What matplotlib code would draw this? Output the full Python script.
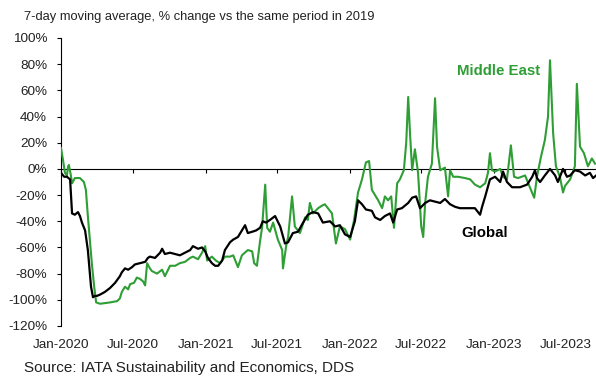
import numpy as np
import pandas as pd
import matplotlib
matplotlib.use("Agg")
from matplotlib import pyplot as plt
import matplotlib.dates as mdates

plt.rcParams['font.family'] = ['Liberation Sans', 'DejaVu Sans']

start = pd.Timestamp("2020-01-01")

# days since 2020-01-01 and % change vs 2019
global_days = [0, 8, 15, 23, 28, 35, 43, 48, 53, 61, 68, 76, 81, 86, 91, 99, 111, 124, 137, 149,
               154, 162, 170, 180, 187, 200, 213, 220, 225, 238, 251, 256, 263, 276, 289, 301, 314, 327, 334, 347,
               357, 365, 372, 382, 390, 398, 408, 415, 428, 436, 448, 458, 466, 473, 484, 494, 504, 511, 519, 529,
               542, 555, 567, 575, 587, 600, 613, 625, 638, 651, 663, 681, 694, 706, 719, 732, 744, 752, 762, 772,
               787, 795, 808, 820, 833, 841, 851, 863, 879, 889, 899, 909, 922, 934, 947, 960, 972, 985, 998, 1010,
               1023, 1036, 1048, 1056, 1061, 1066, 1074, 1086, 1099, 1112, 1119, 1129, 1142, 1162, 1180, 1193, 1200,
               1205, 1213, 1225, 1238, 1251, 1258, 1271, 1281, 1289, 1301, 1314, 1327, 1339, 1347, 1355]
global_vals = [-3, -6, -6, -8, -34, -35, -33, -36, -41, -47, -62, -90, -98, -97, -97, -96, -94, -91, -87, -82,
               -79, -76, -77, -75, -73, -72, -71, -68, -67, -68, -64, -61, -65, -64, -65, -66, -64, -62, -59, -61,
               -60, -63, -68, -72, -74, -74, -70, -62, -56, -54, -52, -47, -43, -49, -48, -47, -45, -40, -41, -39,
               -36, -44, -57, -56, -49, -48, -41, -35, -33, -34, -41, -40, -44, -43, -50, -52, -40, -24, -27, -31,
               -32, -37, -39, -36, -34, -41, -31, -30, -26, -22, -21, -30, -26, -24, -25, -26, -23, -27, -29, -30,
               -30, -30, -30, -33, -35, -29, -21, -8, -6, -10, -2, -10, -14, -14, -12, -6, -1,
               -7, -10, -5, 0, -5, -10, 0, -6, -5, -1, -2, -5, -3, -7, -5]

me_days = [0, 5, 10, 15, 18, 20, 25, 28, 35, 48, 58, 63, 68, 73, 78, 84, 89, 99, 124, 142,
           149, 154, 162, 170, 175, 185, 192, 200, 208, 213, 218, 225, 230, 243, 256, 263, 276, 289, 301, 314,
           327, 334, 347, 357, 365, 370, 382, 392, 403, 415, 428, 436, 448, 458, 473, 484, 489, 496, 504, 509,
           517, 522, 529, 537, 549, 560, 562, 570, 575, 585, 592, 605, 618, 625, 630, 638, 651, 661, 668, 686,
           696, 706, 719, 732, 742, 752, 762, 772, 780, 787, 795, 803, 813, 820, 828, 836, 843, 851, 858, 868,
           874, 879, 884, 889, 896, 904, 912, 917, 922, 929, 939, 947, 952, 960, 972, 980, 985, 993, 1005, 1023,
           1036, 1048, 1061, 1074, 1081, 1086, 1091, 1099, 1112, 1119, 1129, 1139, 1147, 1157, 1175, 1187, 1198,
           1205, 1215, 1225, 1233, 1238, 1246, 1253, 1263, 1271, 1276, 1289, 1301, 1306, 1314, 1324, 1334, 1344, 1352]
me_vals = [16, 7, -3, -5, 2, 3, -5, -11, -7, -7, -10, -16, -36, -54, -72, -90, -102, -103, -102, -101,
           -99, -94, -90, -92, -88, -87, -83, -84, -86, -89, -72, -76, -78, -80, -77, -82, -74, -74, -72, -71,
           -68, -67, -69, -64, -59, -70, -67, -70, -72, -67, -67, -66, -75, -66, -62, -63, -72, -74, -55, -45,
           -12, -45, -48, -41, -54, -62, -76, -59, -52, -21, -44, -49, -37, -39, -26, -34, -30, -28, -27, -34,
           -57, -44, -46, -54, -39, -18, -8, 5, 6, -16, -20, -24, -30, -21, -24, -21, -45, -11, -8, -1,
           20, 55, 25, -1, 15, -3, -44, -52, -26, -6, 4, 54, 17, -1, 1, -21, -1, -6, -6, -7,
           -8, -12, -14, -11, -3, 12, -1, -2, 0, -6, -8, 18, -6, -7, -5, -14, -22,
           -6, 9, 22, 40, 83, 27, 2, -6, -18, -13, -8, 2, 65, 17, 12, 2, 8, 4]

tick_dates = ["2020-01-01", "2020-07-01", "2021-01-01", "2021-07-01",
              "2022-01-01", "2022-07-01", "2023-01-01", "2023-07-01"]
tick_labels = ["Jan-2020", "Jul-2020", "Jan-2021", "Jul-2021",
               "Jan-2022", "Jul-2022", "Jan-2023", "Jul-2023"]

green = "#2e9e35"

def to_num(days):
    return mdates.date2num(start + pd.to_timedelta(days, unit="D"))

fig = plt.figure(figsize=(5.96, 3.77), dpi=100)
ax = fig.add_axes([61 / 596, 1 - 326 / 377, 536 / 596, 288 / 377])

ax.plot(to_num(me_days), me_vals, color=green, lw=1.5, zorder=3)
ax.plot(to_num(global_days), global_vals, color="black", lw=1.6, zorder=4)

ax.set_ylim(-120, 100)
ax.set_yticks(np.arange(-120, 101, 20))
ax.set_yticklabels([f"{v}%" for v in range(-120, 101, 20)])
ax.set_xlim(to_num([0])[0], to_num([1357])[0])

xt = mdates.date2num(pd.to_datetime(tick_dates))
ax.set_xticks(xt)
ax.set_xticklabels(tick_labels)
ax.tick_params(axis="x", length=0, pad=9.5, labelsize=9.7, colors="#222222")
ax.tick_params(axis="y", length=3, width=0.8, pad=7, labelsize=9.7, colors="#222222")
ax.tick_params(axis="y", color="black")

for s in ["top", "right", "bottom"]:
    ax.spines[s].set_visible(False)
ax.spines["left"].set_linewidth(0.8)

# zero line with the date ticks hanging from it
sec = ax.secondary_xaxis(0, transform=ax.transData)
sec.set_xticks(xt)
sec.tick_params(axis="x", direction="out", length=3, width=0.8, labelbottom=False)
sec.spines["bottom"].set_linewidth(0.8)

ax.text(to_num([1109])[0], 75, "Middle East", color=green, fontsize=10.8,
        fontweight="bold", ha="center", va="center")
ax.text(to_num([1073])[0], -49, "Global", color="black", fontsize=10.8,
        fontweight="bold", ha="center", va="center")

fig.text(24 / 596, 1 - 20 / 377, "7-day moving average, % change vs the same period in 2019",
         fontsize=9.3, color="#222222", va="baseline")
fig.text(24 / 596, 1 - 372 / 377, "Source: IATA Sustainability and Economics, DDS",
         fontsize=11, color="#222222", va="baseline")

fig.savefig("out.png", dpi=100)
